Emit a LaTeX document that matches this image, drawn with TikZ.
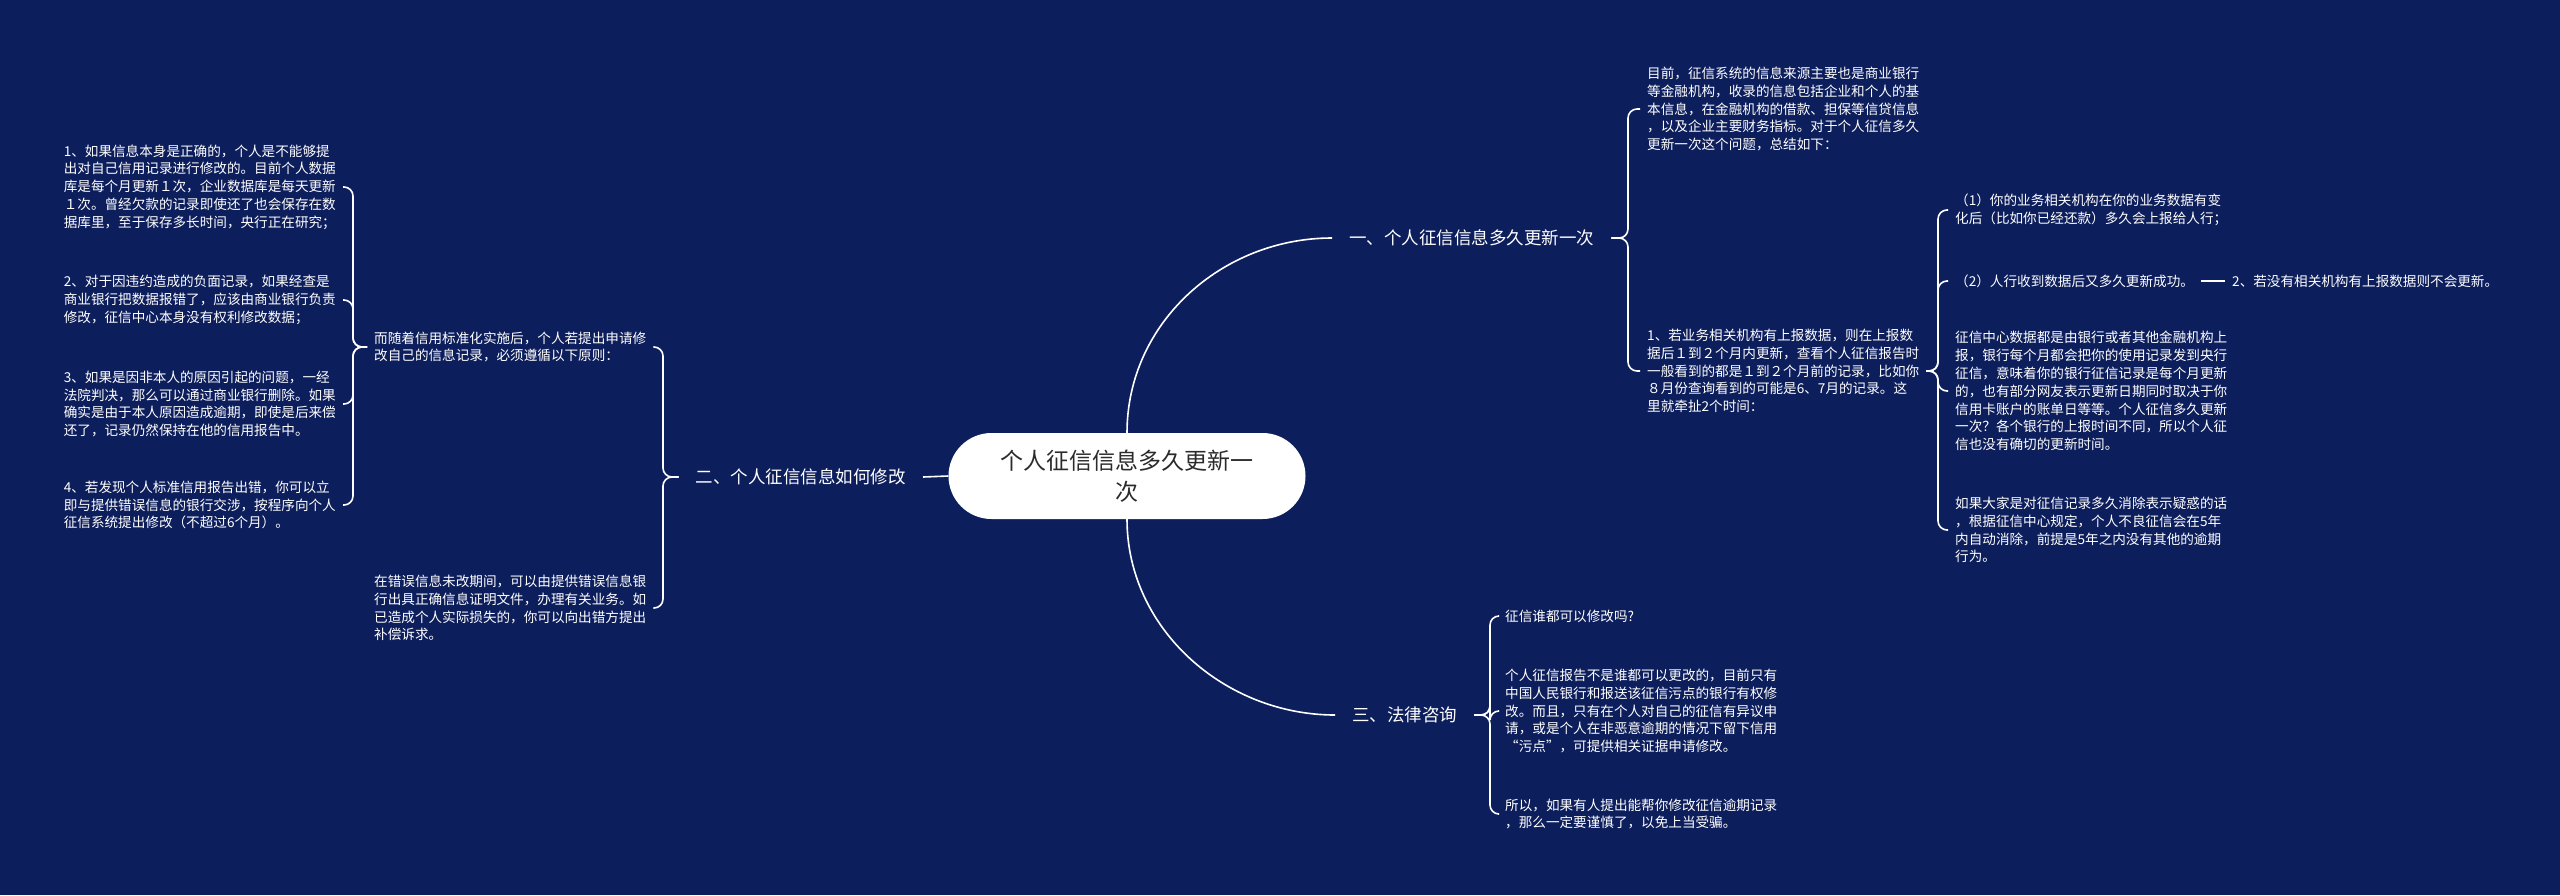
\documentclass[tikz,border=0pt]{standalone}
\usepackage{fontspec}
\setmainfont{Noto Sans CJK SC}
\usetikzlibrary{calc}
\definecolor{bg}{HTML}{0D1E5C}
\definecolor{ctext}{HTML}{2B2B2B}
\begin{document}
\begin{tikzpicture}[x=1pt,y=-1pt,
  conn/.style={draw=white,line width=1.6pt,rounded corners=9pt},
  small/.style={text=white,font=\fontsize{13.6}{17.8}\selectfont,align=left,inner xsep=7pt,inner ysep=0pt},
  branch/.style={text=white,font=\fontsize{17.5}{22}\selectfont,inner xsep=17pt,inner ysep=0pt},
  root/.style={fill=white,rounded corners=43pt,minimum width=357pt,minimum height=86pt,text=ctext,font=\fontsize{23}{31}\selectfont,align=center}]
\fill[bg] (0,0) rectangle (2560,895);
\useasboundingbox (0,0) rectangle (2560,895);

% root
\node[root] (root) at (1127,476) {个人征信信息多久更新一\\次};

% branches
\node[branch,anchor=west] (b1) at (1332,238) {一、个人征信信息多久更新一次};
\node[branch,anchor=east] (b2) at (923,477) {二、个人征信信息如何修改};
\node[branch,anchor=west] (b3) at (1335,715) {三、法律咨询};

% spines
\coordinate (s1) at (1628,0);
\coordinate (s2) at (1938,0);
\coordinate (s3) at (663,0);
\coordinate (s4) at (353,0);
\coordinate (s5) at (1490,0);

% branch 1 children
\node[small,anchor=west] (r1) at (1640,109) {目前，征信系统的信息来源主要也是商业银行\\等金融机构，收录的信息包括企业和个人的基\\本信息，在金融机构的借款、担保等信贷信息\\，以及企业主要财务指标。对于个人征信多久\\更新一次这个问题，总结如下：};
\node[small,anchor=west] (r2) at (1640,371) {1、若业务相关机构有上报数据，则在上报数\\据后１到２个月内更新，查看个人征信报告时\\一般看到的都是１到２个月前的记录，比如你\\８月份查询看到的可能是6、7月的记录。这\\里就牵扯2个时间：};
\node[small,anchor=west] (r21) at (1948,210) {（1）你的业务相关机构在你的业务数据有变\\化后（比如你已经还款）多久会上报给人行；};
\node[small,anchor=west] (r22) at (1948,281) {（2）人行收到数据后又多久更新成功。};
\node[small,anchor=west] (r221) at (2225,281) {2、若没有相关机构有上报数据则不会更新。};
\node[small,anchor=west] (r23) at (1948,391) {征信中心数据都是由银行或者其他金融机构上\\报，银行每个月都会把你的使用记录发到央行\\征信，意味着你的银行征信记录是每个月更新\\的，也有部分网友表示更新日期同时取决于你\\信用卡账户的账单日等等。个人征信多久更新\\一次？各个银行的上报时间不同，所以个人征\\信也没有确切的更新时间。};
\node[small,anchor=west] (r24) at (1948,530) {如果大家是对征信记录多久消除表示疑惑的话\\，根据征信中心规定，个人不良征信会在5年\\内自动消除，前提是5年之内没有其他的逾期\\行为。};

% branch 2 children
\node[small,anchor=west] (l1) at (367,347) {而随着信用标准化实施后，个人若提出申请修\\改自己的信息记录，必须遵循以下原则：};
\node[small,anchor=west] (l2) at (367,608) {在错误信息未改期间，可以由提供错误信息银\\行出具正确信息证明文件，办理有关业务。如\\已造成个人实际损失的，你可以向出错方提出\\补偿诉求。};
\node[small,anchor=east] (ll1) at (343,187) {1、如果信息本身是正确的，个人是不能够提\\出对自己信用记录进行修改的。目前个人数据\\库是每个月更新１次，企业数据库是每天更新\\１次。曾经欠款的记录即使还了也会保存在数\\据库里，至于保存多长时间，央行正在研究；};
\node[small,anchor=east] (ll2) at (343,300) {2、对于因违约造成的负面记录，如果经查是\\商业银行把数据报错了，应该由商业银行负责\\修改，征信中心本身没有权利修改数据；};
\node[small,anchor=east] (ll3) at (343,404) {3、如果是因非本人的原因引起的问题，一经\\法院判决，那么可以通过商业银行删除。如果\\确实是由于本人原因造成逾期，即使是后来偿\\还了，记录仍然保持在他的信用报告中。};
\node[small,anchor=east] (ll4) at (343,505) {4、若发现个人标准信用报告出错，你可以立\\即与提供错误信息的银行交涉，按程序向个人\\征信系统提出修改（不超过6个月）。};

% branch 3 children
\node[small,anchor=west] (d1) at (1498,616) {征信谁都可以修改吗?};
\node[small,anchor=west] (d2) at (1498,711) {个人征信报告不是谁都可以更改的，目前只有\\中国人民银行和报送该征信污点的银行有权修\\改。而且，只有在个人对自己的征信有异议申\\请，或是个人在非恶意逾期的情况下留下信用\\“污点”，可提供相关证据申请修改。};
\node[small,anchor=west] (d3) at (1498,814) {所以，如果有人提出能帮你修改征信逾期记录\\，那么一定要谨慎了，以免上当受骗。};

% root connectors
\draw[conn] (root.north) .. controls +(0,-110) and +(-110,0) .. (b1.west);
\draw[conn] (root.west) -- (b2.east);
\draw[conn] (root.south) .. controls +(0,110) and +(-110,0) .. (b3.west);

% branch 1 brackets
\draw[conn] (b1.east) -- (b1.east -| s1) |- (r1.west);
\draw[conn] (b1.east) -- (b1.east -| s1) |- (r2.west);
\draw[conn] (r2.east) -- (r2.east -| s2) |- (r21.west);
\draw[conn] (r2.east) -- (r2.east -| s2) |- (r22.west);
\draw[conn] (r2.east) -- (r2.east -| s2) |- (r23.west);
\draw[conn] (r2.east) -- (r2.east -| s2) |- (r24.west);
\draw[conn] (r22.east) -- (r221.west);

% branch 2 brackets
\draw[conn] (b2.west) -- (b2.west -| s3) |- (l1.east);
\draw[conn] (b2.west) -- (b2.west -| s3) |- (l2.east);
\draw[conn] (l1.west) -- (l1.west -| s4) |- (ll1.east);
\draw[conn] (l1.west) -- (l1.west -| s4) |- (ll2.east);
\draw[conn] (l1.west) -- (l1.west -| s4) |- (ll3.east);
\draw[conn] (l1.west) -- (l1.west -| s4) |- (ll4.east);

% branch 3 brackets
\draw[conn] (b3.east) -- (b3.east -| s5) |- (d1.west);
\draw[conn] (b3.east) -- (b3.east -| s5) |- (d2.west);
\draw[conn] (b3.east) -- (b3.east -| s5) |- (d3.west);
\end{tikzpicture}
\end{document}
